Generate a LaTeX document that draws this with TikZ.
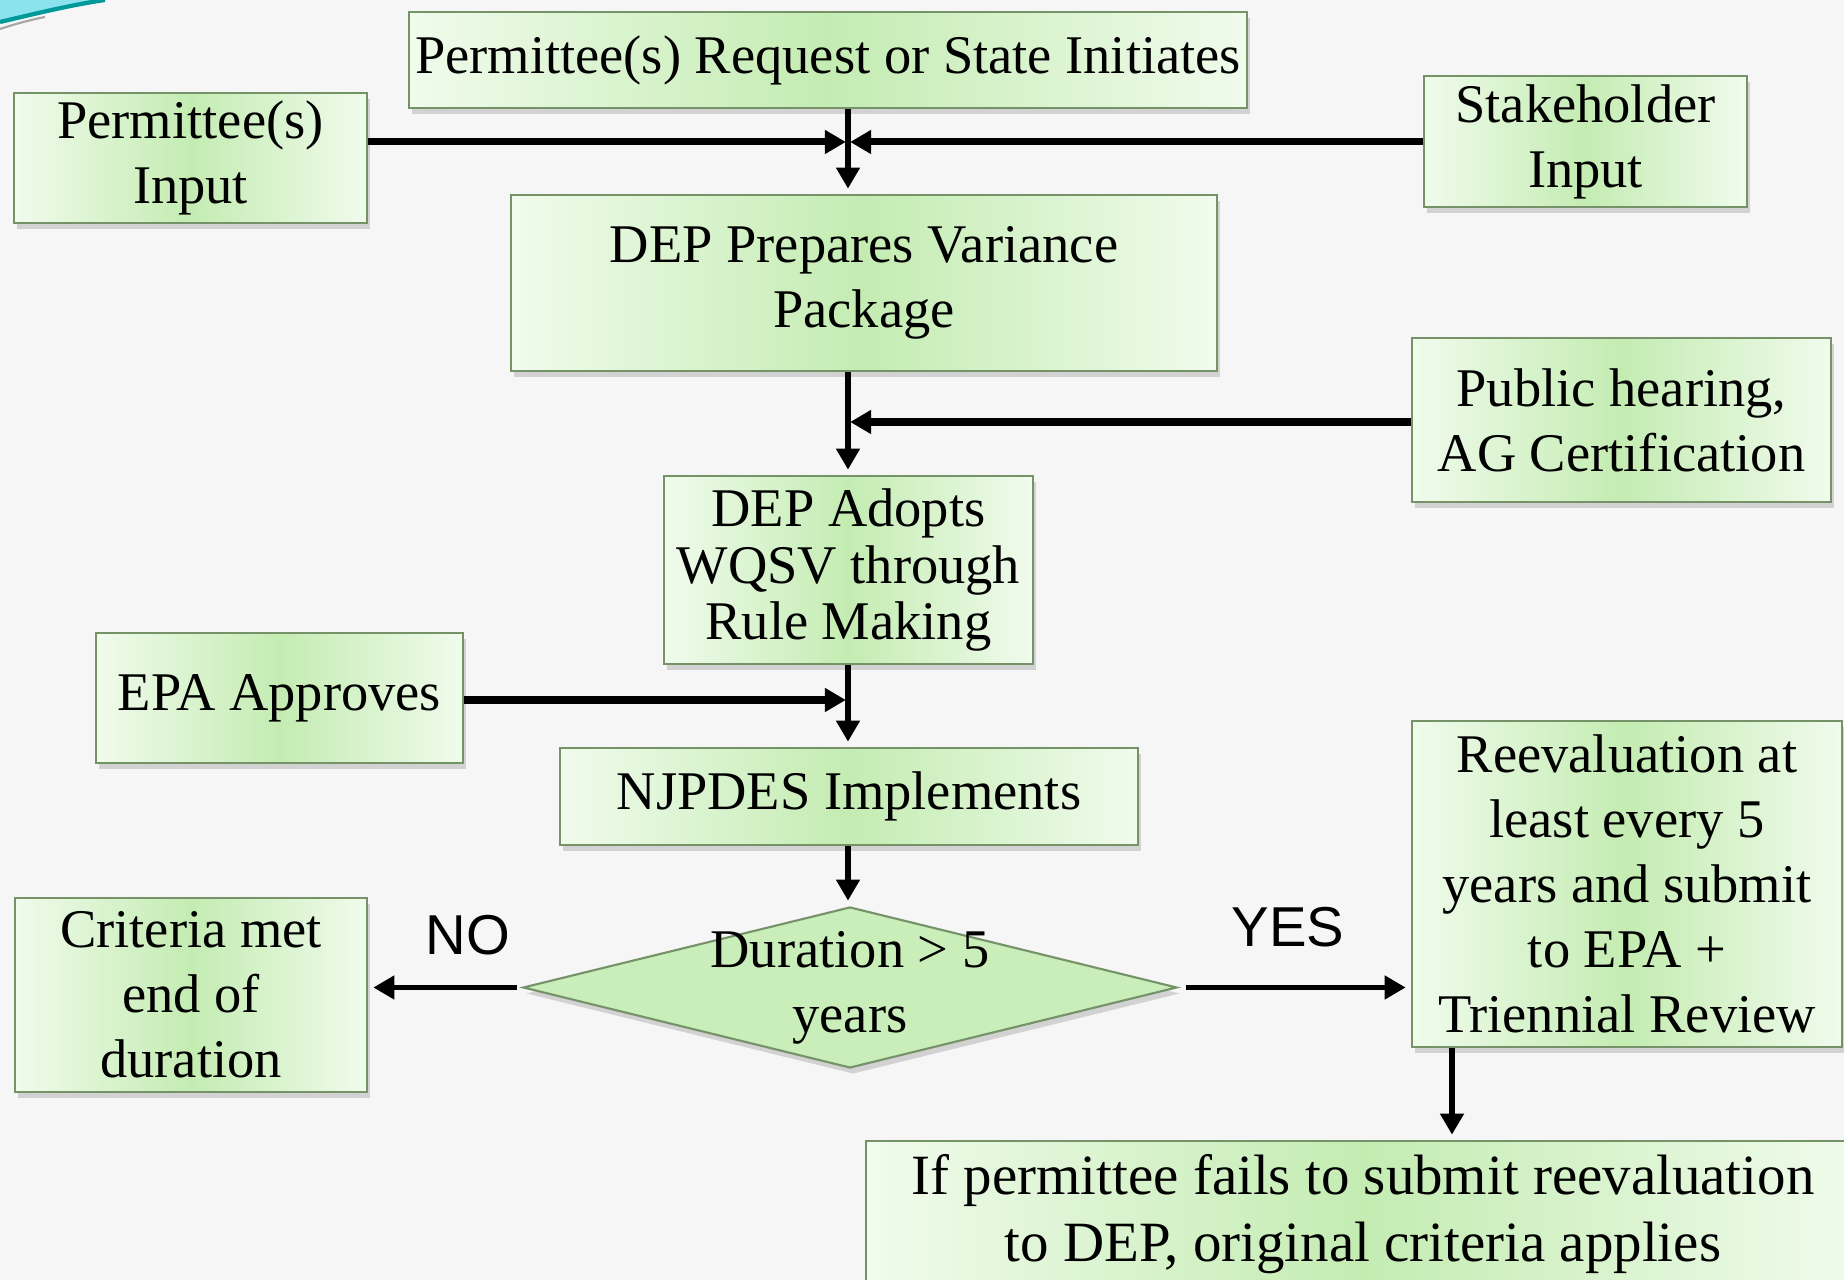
\documentclass[tikz,border=0pt]{standalone}
\usepackage{fontspec}
\setmainfont{Liberation Serif}
\newfontfamily\yesnofont{Liberation Sans}
\usetikzlibrary{arrows.meta,shapes.geometric,shadows}
\definecolor{boxgreen}{RGB}{196,236,178}
\definecolor{boxlight}{RGB}{240,251,236}
\definecolor{boxedge}{RGB}{118,146,104}
\definecolor{pagegray}{RGB}{246,246,246}
\definecolor{swoosh}{RGB}{90,215,230}

\begin{document}
\begin{tikzpicture}[>={Triangle[length=6pt,width=6.5pt]},
    box/.style={draw=boxedge, line width=0.6pt, left color=boxlight, right color=boxlight, middle color=boxgreen,
        drop shadow={shadow xshift=0.03cm, shadow yshift=-0.06cm, opacity=0.3},
        align=center, inner sep=1pt, font=\fontsize{15.5}{18.5}\selectfont},
    decision/.style={diamond, draw=boxedge, line width=0.6pt, fill=boxgreen!90,
        drop shadow={shadow xshift=0.03cm, shadow yshift=-0.06cm, opacity=0.3},
        inner sep=0pt, minimum width=6.54cm, minimum height=1.61cm},
    flow/.style={->, line width=1.6pt, shorten >=1.5pt},
    feed/.style={->, line width=2pt, shorten >=0.6pt},
    answer/.style={font=\yesnofont\fontsize{16}{19}\selectfont}]
    \useasboundingbox (0,0) rectangle (18.44,-12.80);
    \clip (0,0) rectangle (18.44,-12.80);
    \fill[pagegray] (0,0) rectangle (18.44,-12.80);
    % slide corner
    \fill[swoosh!70] (0,0) -- (0.95,0) .. controls (0.6,-0.08) and (0.25,-0.15) .. (0,-0.2) -- cycle;
    \draw[teal!80!cyan, line width=1.2pt] (0,-0.22) .. controls (0.3,-0.15) and (0.7,-0.05) .. (1.05,0);
    \draw[gray!70, line width=0.6pt] (0,-0.29) .. controls (0.15,-0.24) and (0.3,-0.2) .. (0.45,-0.17);

    \node[box, minimum width=8.38cm, minimum height=0.96cm] (req) at (8.28,-0.60) {Permittee(s) Request or State Initiates};
    \node[box, minimum width=3.53cm, minimum height=1.30cm] (pin) at (1.905,-1.58) {Permittee(s)\\Input};
    \node[box, minimum width=3.23cm, minimum height=1.31cm] (stake) at (15.855,-1.415) {Stakeholder\\Input};
    \node[box, minimum width=7.06cm, minimum height=1.76cm] (prep) at (8.64,-2.83) {DEP Prepares Variance\\Package};
    \node[box, minimum width=4.19cm, minimum height=1.64cm] (pub) at (16.215,-4.20) {Public hearing,\\AG Certification};
    \node[box, minimum width=3.69cm, minimum height=1.88cm, font=\fontsize{15.5}{16}\selectfont] (adopt) at (8.485,-5.70) {DEP Adopts\\WQSV through\\Rule Making};
    \node[box, minimum width=3.67cm, minimum height=1.30cm] (epa) at (2.795,-6.98) {EPA Approves};
    \node[box, minimum width=5.78cm, minimum height=0.97cm] (njp) at (8.49,-7.965) {NJPDES Implements};
    \node[decision, label={[align=center, font=\fontsize{15.5}{18.5}\selectfont]center:{Duration > 5\\years}}] (dur) at (8.50,-9.875) {};
    \node[box, minimum width=3.52cm, minimum height=1.94cm] (crit) at (1.91,-9.95) {Criteria met\\end of\\duration};
    \node[box, minimum width=4.30cm, minimum height=3.26cm] (reev) at (16.27,-8.84) {Reevaluation at\\least every 5\\years and submit\\to EPA +\\Triennial Review};
    \node[box, minimum width=9.94cm, minimum height=1.46cm, font=\fontsize{16.2}{19}\selectfont] (fail) at (13.63,-12.14) {If permittee fails to submit reevaluation\\to DEP, original criteria applies};

    \node[answer] (no) at (4.68,-9.35) {NO};
    \node[answer] (yes) at (12.88,-9.27) {YES};

    \coordinate (jA) at (8.48,-1.42);
    \coordinate (jB) at (8.48,-4.22);
    \coordinate (jC) at (8.48,-7.00);
    \coordinate (jD) at (14.52,-11.0);

    \draw[flow] (req.south -| jA) -- (prep.north -| jA);
    \draw[feed] (pin.east |- jA) -- (jA);
    \draw[feed] (stake.west |- jA) -- (jA);
    \draw[flow] (prep.south -| jB) -- (adopt.north -| jB);
    \draw[feed] (pub.west |- jB) -- (jB);
    \draw[flow] (adopt.south -| jC) -- (njp.north -| jC);
    \draw[feed] (epa.east |- jC) -- (jC);
    \draw[flow] (njp.south -| jC) -- (dur.north -| jC);
    \draw[flow] ([xshift=-0.05cm]dur.west) -- (dur.west -| crit.east);
    \draw[flow] ([xshift=0.08cm]dur.east) -- (dur.east -| reev.west);
    \draw[flow] (reev.south -| jD) -- (fail.north -| jD);
\end{tikzpicture}
\end{document}
